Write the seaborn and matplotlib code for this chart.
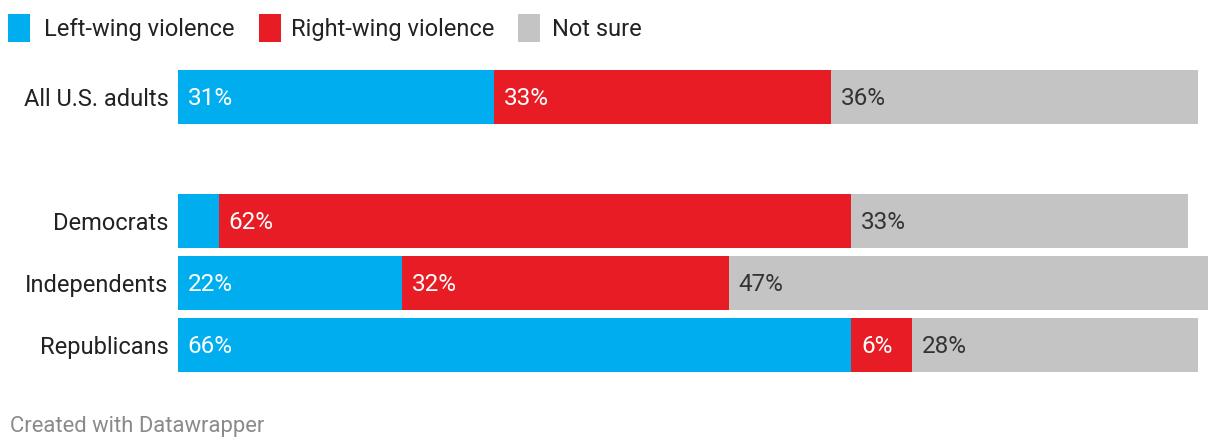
import pandas as pd
import seaborn as sns
import matplotlib.pyplot as plt
from matplotlib.patches import Rectangle

# Data
groups = ["All U.S. adults", " ", "Democrats", "Independents", "Republicans"]
rows = ["All U.S. adults", "Democrats", "Independents", "Republicans"]
left_wing = [31, 4, 22, 66]
right_wing = [33, 62, 32, 6]
not_sure = [36, 33, 47, 28]
series = ["Left-wing violence", "Right-wing violence", "Not sure"]
colors = ["#00aeef", "#e81c24", "#c4c4c4"]
label_colors = ["white", "white", "#333333"]
show_label = [
    [True, False, True, True],
    [True, True, True, True],
    [True, True, True, True],
]

W, H = 1220, 448
sns.set_theme(style="white")
plt.rcParams["font.family"] = ["Roboto", "DejaVu Sans"]

fig = plt.figure(figsize=(W / 100, H / 100), dpi=100)
top_px, bot_px = 60, 380
ax = fig.add_axes([178 / W, 1 - bot_px / H, 1 - 178 / W, (bot_px - top_px) / H])

df = pd.DataFrame({"group": rows, "left": left_wing, "right": right_wing, "unsure": not_sure})
df["c1"] = df["left"]
df["c2"] = df["left"] + df["right"]
df["c3"] = df["c2"] + df["unsure"]

# overlay cumulative totals, widest first
for col, color in zip(["c3", "c2", "c1"], colors[::-1]):
    sns.barplot(data=df, x=col, y="group", order=groups, color=color,
                width=0.86, saturation=1, ax=ax, linewidth=0)

ax.set_xlim(0, (W - 178) / 10.2)
ax.set_ylim((bot_px - 97) / 62, -(97 - top_px) / 62)
ax.set_xlabel("")
ax.set_ylabel("")
ax.set_xticks([])
for s in ax.spines.values():
    s.set_visible(False)
ax.tick_params(axis="y", length=0, pad=7, labelsize=17, labelcolor="#222222")

# value labels
vals = [left_wing, right_wing, not_sure]
for k in range(3):
    for i, g in enumerate(rows):
        if not show_label[k][i]:
            continue
        start = sum(vals[j][i] for j in range(k))
        ax.text(start + 0.95, groups.index(g) + 0.02, f"{vals[k][i]}%", va="center", ha="left",
                color=label_colors[k], fontsize=17.5)

# legend
leg = [(8, 44), (259, 291), (518, 552)]
for (sx, tx), name, c in zip(leg, series, colors):
    fig.add_artist(Rectangle((sx / W, 1 - 42 / H), 22 / W, 28 / H,
                             transform=fig.transFigure, color=c, lw=0))
    fig.text(tx / W, 1 - 29.5 / H, name, va="center", ha="left", fontsize=17, color="#222222")

fig.text(10 / W, 1 - 426.5 / H, "Created with Datawrapper", va="center", ha="left",
         fontsize=15.8, color="#8a8a8a")

fig.savefig("out.png", dpi=100)
